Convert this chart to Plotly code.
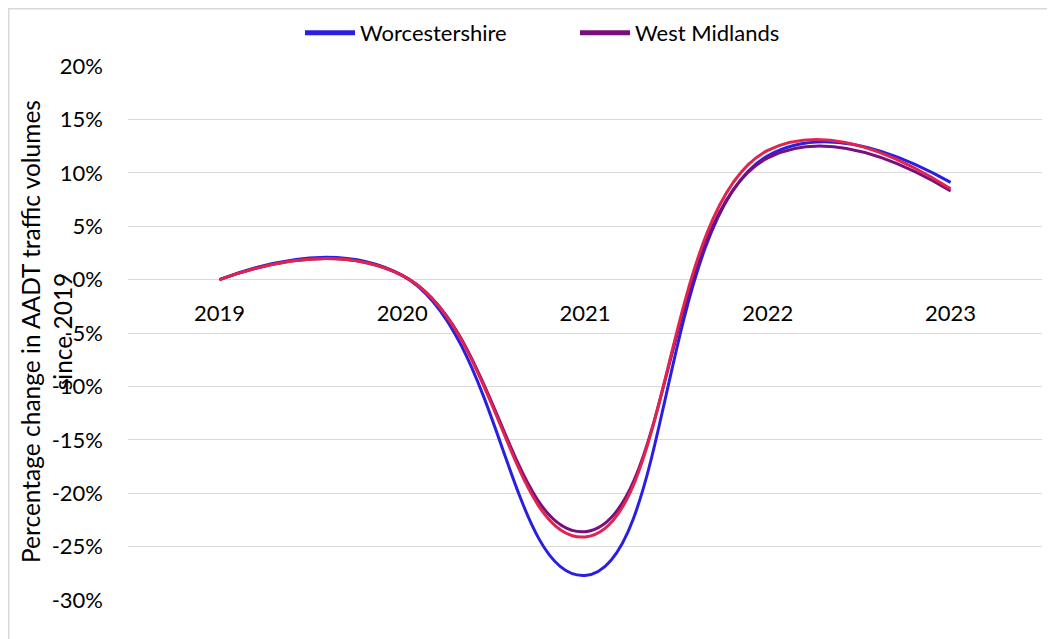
import plotly.graph_objects as go

# ---- data ----
years = ["2019", "2020", "2021", "2022", "2023"]
worcestershire = [0.0, 0.4, -27.7, 11.6, 9.1]
west_midlands = [0.0, 0.4, -23.6, 11.4, 8.3]
england = [0.0, 0.4, -24.1, 12.1, 8.5]
y_ticks = [-30, -25, -20, -15, -10, -5, 0, 5, 10, 15, 20]
y_tick_labels = ["-30%", "-25%", "-20%", "-15%", "-10%", "-5%", "0%", "5%", "10%", "15%", "20%"]

FONT = "Lato"
# the page body has an 8px margin, so the figure is laid out 8px up/left
OFF = 8
W, H = 1055 - OFF, 639 - OFF
PL, PT, PR, PB = 128, 66, 1042, 600          # plot area in page pixels
L, T = PL - OFF, PT - OFF
R, B = W - (PR - OFF), H - (PB - OFF)
pw, ph = PR - PL, PB - PT

def px_x(p):
    return (p - PL) / pw

def px_y(p):
    return (PB - p) / ph

fig = go.Figure()
fig.add_trace(go.Scatter(x=years, y=worcestershire, name="Worcestershire", mode="lines",
                         line=dict(color="#2A1FE0", width=3, shape="spline", smoothing=1.3)))
fig.add_trace(go.Scatter(x=years, y=west_midlands, name="West Midlands", mode="lines",
                         line=dict(color="#780F7C", width=3, shape="spline", smoothing=1.3)))
fig.add_trace(go.Scatter(x=years, y=england, name="England", mode="lines", showlegend=False,
                         line=dict(color="#E0244F", width=3, shape="spline", smoothing=1.3)))

fig.update_layout(
    width=W, height=H,
    margin=dict(l=L, r=R, t=T, b=B, autoexpand=False),
    paper_bgcolor="white", plot_bgcolor="white",
    font=dict(family=FONT, size=22, color="#000000"),
    showlegend=True,
    legend=dict(orientation="h", x=px_x(300), xanchor="left", y=px_y(33), yanchor="middle",
                itemwidth=50, entrywidth=210, itemsizing="constant",
                font=dict(family=FONT, size=22, color="#000000"), bgcolor="rgba(0,0,0,0)"),
    xaxis=dict(type="category", range=[-0.5, 4.5], anchor="free", position=0.6,
               showgrid=False, zeroline=False, showline=False, ticks="",
               tickfont=dict(family=FONT, size=22, color="#000000"), ticklabelstandoff=18),
    yaxis=dict(range=[-30, 20], tickvals=y_ticks, ticktext=y_tick_labels,
               showgrid=True, gridcolor="#D9D9D9", gridwidth=1.3, zeroline=False, showline=False,
               ticks="", tickfont=dict(family=FONT, size=22, color="#000000"), ticklabelstandoff=24),
    shapes=[dict(type="rect", xref="paper", yref="paper", x0=px_x(8.75), x1=1.3, y0=-0.3, y1=px_y(8.75),
                 line=dict(color="#D9D9D9", width=1.5), fillcolor="rgba(0,0,0,0)", layer="below")],
    annotations=[dict(text="Percentage change in AADT traffic volumes<br>since 2019",
                      xref="paper", yref="paper", x=px_x(46), y=px_y(332),
                      xanchor="center", yanchor="middle", textangle=-90, showarrow=False,
                      font=dict(family=FONT, size=24.5, color="#000000"))],
)

fig.write_html("out.html")
